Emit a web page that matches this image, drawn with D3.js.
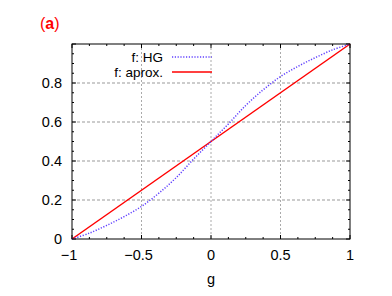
<!DOCTYPE html>
<html>
<head>
<meta charset="utf-8">
<script src="https://cdn.jsdelivr.net/npm/d3@7"></script>
<style>
  body { margin: 0; background: #fff; }
  text { font-family: "Liberation Sans", Arial, sans-serif; }
</style>
</head>
<body>
<script>
// values
var gValues = [-1, -0.875, -0.75, -0.625, -0.5, -0.375, -0.25, -0.125, 0,
               0.125, 0.25, 0.375, 0.5, 0.625, 0.75, 0.875, 1];
var fHG = [0, 0.03, 0.07, 0.115, 0.167, 0.235, 0.315, 0.41, 0.5,
           0.59, 0.685, 0.765, 0.833, 0.885, 0.93, 0.97, 1];
var fAprox = [0, 1];
var fAproxG = [-1, 1];
var xTicks = [-1, -0.5, 0, 0.5, 1];
var yTicks = [0, 0.2, 0.4, 0.6, 0.8];
var seriesNames = ["f: HG", "f: aprox."];

var width = 392, height = 296;
var margin = {top: 44, right: 42, bottom: 57, left: 72};
var w = width - margin.left - margin.right,
    h = height - margin.top - margin.bottom;

var svg = d3.select("body").append("svg")
  .attr("width", width)
  .attr("height", height);

var x = d3.scaleLinear().domain([-1, 1]).range([0, w]);
var y = d3.scaleLinear().domain([0, 1]).range([h, 0]);

var g = svg.append("g")
  .attr("transform", "translate(" + margin.left + "," + margin.top + ")");

// grid
g.selectAll(".vgrid").data(xTicks.slice(1, -1)).enter().append("line")
  .attr("x1", d => x(d)).attr("x2", d => x(d))
  .attr("y1", 0).attr("y2", h)
  .attr("stroke", "#aaa").attr("stroke-width", 1)
  .attr("stroke-dasharray", "2,2");
g.selectAll(".hgrid").data(yTicks.slice(1)).enter().append("line")
  .attr("x1", 0).attr("x2", w)
  .attr("y1", d => y(d)).attr("y2", d => y(d))
  .attr("stroke", "#999").attr("stroke-width", 1)
  .attr("stroke-dasharray", "3,2");

// minor + major ticks on all four sides
var xMinor = d3.range(-1, 1.0001, 0.125);
var yMinor = d3.range(0, 1.0001, 0.05);
function tickLen(v, step) {
  return Math.abs(v / step - Math.round(v / step)) < 1e-6 ? 4 : 2;
}
xMinor.forEach(function(v) {
  var l = tickLen(v, 0.5);
  g.append("line").attr("x1", x(v)).attr("x2", x(v)).attr("y1", h).attr("y2", h - l)
    .attr("stroke", "#000");
  g.append("line").attr("x1", x(v)).attr("x2", x(v)).attr("y1", 0).attr("y2", l)
    .attr("stroke", "#000");
});
yMinor.forEach(function(v) {
  var l = tickLen(v, 0.2);
  g.append("line").attr("x1", 0).attr("x2", l).attr("y1", y(v)).attr("y2", y(v))
    .attr("stroke", "#000");
  g.append("line").attr("x1", w).attr("x2", w - l).attr("y1", y(v)).attr("y2", y(v))
    .attr("stroke", "#000");
});

// tick labels
g.selectAll(".xl").data(xTicks).enter().append("text")
  .attr("x", d => x(d) - (d < 0 ? 3 : 0)).attr("y", h + 21)
  .attr("text-anchor", "middle")
  .style("font-size", "14.5px")
  .text(d => d3.format("")(d).replace("-", "\u2212"));
g.selectAll(".yl").data(yTicks).enter().append("text")
  .attr("x", -10).attr("y", d => y(d) + 5)
  .attr("text-anchor", "end")
  .style("font-size", "14.5px")
  .text(d => d3.format("")(d));

g.append("text")
  .attr("x", x(0)).attr("y", h + 45)
  .attr("text-anchor", "middle")
  .style("font-size", "14.5px")
  .text("g");

// lines
var hgData = gValues.map((v, i) => [v, fHG[i]]);
var apData = fAproxG.map((v, i) => [v, fAprox[i]]);
var line = d3.line().x(d => x(d[0])).y(d => y(d[1]));

g.append("path").attr("d", line(apData))
  .attr("fill", "none").attr("stroke", "#ff0000").attr("stroke-width", 1.5);
g.append("path").attr("d", line.curve(d3.curveCatmullRom)(hgData))
  .attr("fill", "none").attr("stroke", "#6040ff").attr("stroke-width", 1.5)
  .attr("stroke-dasharray", "1.2,1.6");

// border
g.append("rect").attr("width", w).attr("height", h)
  .attr("fill", "none").attr("stroke", "#000").attr("stroke-width", 1);

// legend
var legend = svg.append("g");
var legY = [57, 72];
legend.selectAll("text").data(seriesNames).enter().append("text")
  .attr("x", 163).attr("y", (d, i) => legY[i] + 5)
  .attr("text-anchor", "end")
  .style("font-size", "13.5px")
  .text(d => d);
legend.append("line").attr("x1", 172).attr("x2", 212).attr("y1", legY[0]).attr("y2", legY[0])
  .attr("stroke", "#6040ff").attr("stroke-width", 1.5).attr("stroke-dasharray", "1.2,1.6");
legend.append("line").attr("x1", 172).attr("x2", 212).attr("y1", legY[1]).attr("y2", legY[1])
  .attr("stroke", "#ff0000").attr("stroke-width", 1.5);

// panel label
var lab = svg.append("text").attr("x", 40).attr("y", 29)
  .style("font-size", "16px").attr("fill", "#ff0000");
lab.append("tspan").text("(");
lab.append("tspan").style("font-weight", "bold").text("a");
lab.append("tspan").text(")");
</script>
</body>
</html>
